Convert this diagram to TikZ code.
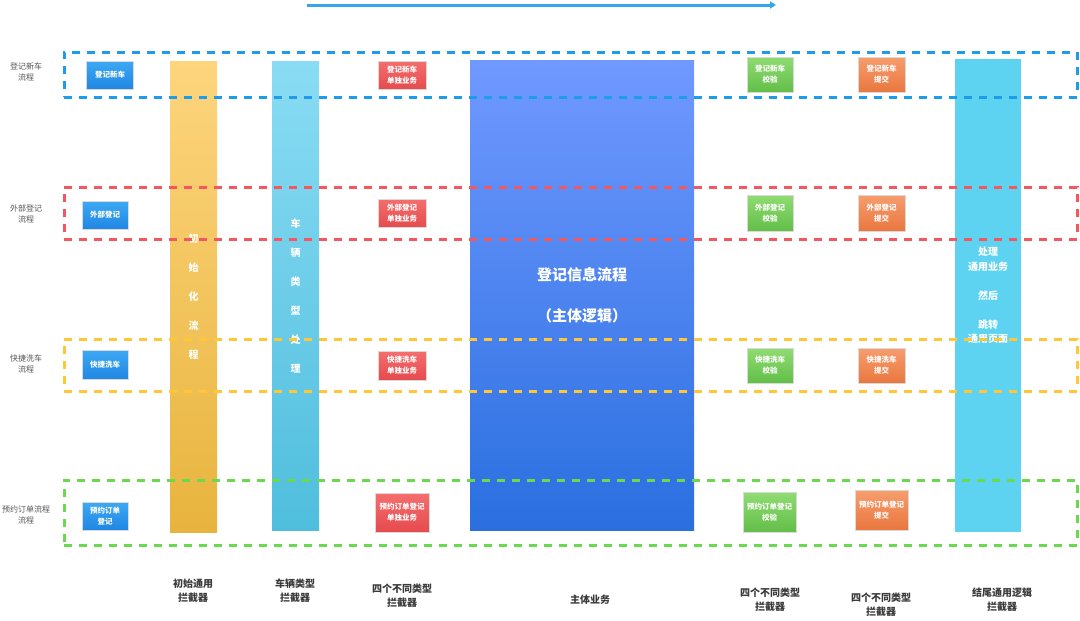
\documentclass[tikz,border=0pt]{standalone}
\usepackage{fontspec}
\setmainfont{Noto Sans CJK SC}
\usetikzlibrary{arrows.meta}
\definecolor{laneblue}{HTML}{1E9BEA}
\definecolor{lanered}{HTML}{F5575F}
\definecolor{laneyellow}{HTML}{FFC738}
\definecolor{lanegreen}{HTML}{6AD94F}
\definecolor{txtgray}{HTML}{555555}
\definecolor{footgray}{HTML}{3A3A3A}
\definecolor{starttop}{HTML}{3DA9F4}
\definecolor{startbot}{HTML}{1F86E3}
\definecolor{onlytop}{HTML}{F56E6E}
\definecolor{onlybot}{HTML}{E54B4E}
\definecolor{checktop}{HTML}{90DC72}
\definecolor{checkbot}{HTML}{62BE48}
\definecolor{subtop}{HTML}{F79D6E}
\definecolor{subbot}{HTML}{E9773F}
\tikzset{gbox/.style={
    rectangle,
    inner sep=0pt,
    align=center,
    text=white,
    draw=white!70!gray,
    line width=0.4pt,
    font=\fontsize{7.5}{11}\selectfont\bfseries
  },
  startbox/.style={gbox,top color=starttop,bottom color=startbot},
  onlybox/.style={gbox,top color=onlytop,bottom color=onlybot},
  checkbox/.style={gbox,top color=checktop,bottom color=checkbot},
  submitbox/.style={gbox,top color=subtop,bottom color=subbot},
  colbar/.style={rectangle,inner sep=0pt,align=center,text=white,
    font=\fontsize{10}{29}\selectfont\bfseries},
  lane/.style={rectangle,line width=3pt,dash pattern=on 8pt off 7pt},
  rowlbl/.style={align=center,text=txtgray,font=\fontsize{8}{11}\selectfont},
  footlbl/.style={align=center,text=footgray,font=\fontsize{10}{14}\selectfont\bfseries},
}

\begin{document}
\begin{tikzpicture}[x=1pt,y=-1pt]
  \useasboundingbox (0,0) rectangle (1080,621);
  % direction arrow
  \coordinate (arrowfrom) at (307,5);
  \coordinate (arrowto) at (776,5);
  \draw[line width=3pt,color=laneblue!90,-{Triangle[length=6pt,width=7pt]}] (arrowfrom) -- (arrowto);
  % row labels
  \node[rowlbl] (lblnew) at (26,72) {登记新车\\流程};
  \node[rowlbl] (lblext) at (26,213.5) {外部登记\\流程};
  \node[rowlbl] (lblwash) at (26,364) {快捷洗车\\流程};
  \node[rowlbl] (lblorder) at (26,514.5) {预约订单流程\\流程};
  % interceptor columns
  \node[colbar,minimum width=47pt,minimum height=471pt,
    top color={rgb,255:red,253;green,213;blue,125},bottom color={rgb,255:red,232;green,180;blue,62}]
    (initcol) at (193.5,296.5) {初\\始\\化\\流\\程};
  \node[colbar,minimum width=47pt,minimum height=469pt,
    top color={rgb,255:red,138;green,220;blue,244},bottom color={rgb,255:red,79;green,190;blue,221}]
    (typecol) at (295.5,295.5) {车\\辆\\类\\型\\处\\理};
  \node[colbar,minimum width=224pt,minimum height=470pt,font=\fontsize{15}{20.5}\selectfont\bfseries,
    top color={rgb,255:red,112;green,153;blue,255},middle color={rgb,255:red,47;green,123;blue,245},
    bottom color={rgb,255:red,42;green,111;blue,224}]
    (maincol) at (582,295) {登记信息流程\\ \\（主体逻辑）};
  \node[colbar,minimum width=66pt,minimum height=473pt,font=\fontsize{10}{14.5}\selectfont\bfseries,
    fill={rgb,255:red,93;green,211;blue,241}]
    (endcol) at (988,295.5) {处理\\通用业务\\ \\然后\\ \\跳转\\通用页面};
  % entry boxes
  \node[startbox,minimum width=47pt,minimum height=28pt] (newcar) at (110,75) {登记新车};
  \node[startbox,minimum width=46pt,minimum height=28pt] (extreg) at (105,215) {外部登记};
  \node[startbox,minimum width=46pt,minimum height=29pt] (quickwash) at (105,365) {快捷洗车};
  \node[startbox,minimum width=46pt,minimum height=28pt] (orderreg) at (105,516) {预约订单\\登记};
  % single business
  \node[onlybox,minimum width=48pt,minimum height=28pt] (newonly) at (402,75) {登记新车\\单独业务};
  \node[onlybox,minimum width=48pt,minimum height=28pt] (extonly) at (402,213) {外部登记\\单独业务};
  \node[onlybox,minimum width=48pt,minimum height=29pt] (washonly) at (402,365.5) {快捷洗车\\单独业务};
  \node[onlybox,minimum width=54pt,minimum height=39pt] (orderonly) at (402,512.5) {预约订单登记\\单独业务};
  % checks
  \node[checkbox,minimum width=46pt,minimum height=35pt] (newcheck) at (770,74.5) {登记新车\\校验};
  \node[checkbox,minimum width=46pt,minimum height=36pt] (extcheck) at (770,213) {外部登记\\校验};
  \node[checkbox,minimum width=46pt,minimum height=35pt] (washcheck) at (770,365.5) {快捷洗车\\校验};
  \node[checkbox,minimum width=53pt,minimum height=40pt] (ordercheck) at (769.5,512) {预约订单登记\\校验};
  % submits
  \node[submitbox,minimum width=47pt,minimum height=35pt] (newsubmit) at (881.5,74.5) {登记新车\\提交};
  \node[submitbox,minimum width=47pt,minimum height=36pt] (extsubmit) at (881.5,213) {外部登记\\提交};
  \node[submitbox,minimum width=47pt,minimum height=35pt] (washsubmit) at (881.5,365.5) {快捷洗车\\提交};
  \node[submitbox,minimum width=53pt,minimum height=40pt] (ordersubmit) at (881.5,510) {预约订单登记\\提交};
  % lanes
  \node[lane,draw=laneblue,minimum width=1013pt,minimum height=45pt] (lanenew) at (570.5,74.5) {};
  \node[lane,draw=lanered,minimum width=1013pt,minimum height=52pt] (laneext) at (570.5,213) {};
  \node[lane,draw=laneyellow,minimum width=1013pt,minimum height=52pt] (lanewash) at (570.5,365) {};
  \node[lane,draw=lanegreen,minimum width=1013pt,minimum height=65pt] (laneorder) at (570.5,512.5) {};
  % footer labels
  \node[footlbl] (footinit) at (193,591) {初始通用\\拦截器};
  \node[footlbl] (foottype) at (295,591) {车辆类型\\拦截器};
  \node[footlbl] (footonly) at (402,596) {四个不同类型\\拦截器};
  \node[footlbl] (footmain) at (590,600) {主体业务};
  \node[footlbl] (footcheck) at (770,600) {四个不同类型\\拦截器};
  \node[footlbl] (footsubmit) at (881,605) {四个不同类型\\拦截器};
  \node[footlbl] (footend) at (1002,600) {结尾通用逻辑\\拦截器};
\end{tikzpicture}
\end{document}
